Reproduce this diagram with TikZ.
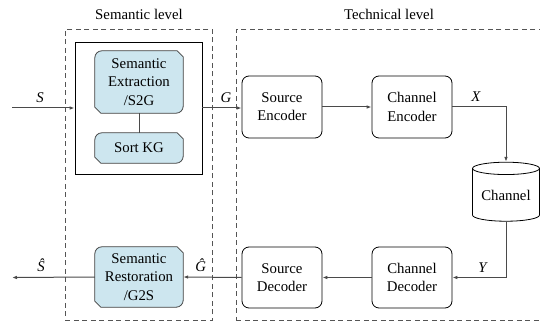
\documentclass[tikz,border=0pt]{standalone}
\usepackage{fontspec}
\setmainfont{Liberation Serif}
\usetikzlibrary{arrows.meta,shapes.geometric,backgrounds}

\definecolor{kgfill}{HTML}{CDE6EF}
\definecolor{wire}{HTML}{4A4A4A}
\definecolor{frame}{HTML}{555555}

\tikzset{
  every node/.style={font=\rmfamily\fontsize{14.8}{18.3}\selectfont},
  block/.style={draw=black, line width=0.8pt, rounded corners=7pt,
    minimum width=80pt, minimum height=62pt, align=center, inner sep=2pt},
  snipnode/.style={minimum width=88pt, align=center, inner sep=2pt},
  snipborder/.style={draw=black!75, fill=kgfill, line width=0.8pt},
  levelframe/.style={draw=frame, line width=0.8pt, dash pattern=on 5pt off 3.5pt},
  wireline/.style={draw=wire, line width=1pt},
  flow/.style={wireline, -{Latex[length=5pt,width=3.6pt]}},
  lbl/.style={font=\rmfamily\fontsize{14.8}{18.3}\selectfont\itshape, inner sep=0pt},
}

% snipped-corner outline: round top-left and bottom-right, cut the other two
\newcommand{\snipoutline}[1]{%
  \path[snipborder]
    ([xshift=7pt]#1.north west) -- ([xshift=-6pt]#1.north east)
    -- ([yshift=-6pt]#1.north east) -- ([yshift=7pt]#1.south east)
    arc[start angle=0, end angle=-90, radius=7pt]
    -- ([xshift=6pt]#1.south west) -- ([yshift=6pt]#1.south west)
    -- ([yshift=-7pt]#1.north west)
    arc[start angle=180, end angle=90, radius=7pt] -- cycle;}

\begin{document}
\begin{tikzpicture}[x=1pt, y=-1pt]
  \useasboundingbox (0,0) rectangle (540,323);

  % level frames and their titles
  \node[levelframe, minimum width=147pt, minimum height=291pt, anchor=north west, inner sep=0pt] (semframe) at (65,29) {};
  \node[levelframe, minimum width=310pt, minimum height=291pt, anchor=north west, inner sep=0pt] (techframe) at (236,29) {};
  \node (semtitle) at (139,14) {Semantic level};
  \node (techtitle) at (389,14) {Technical level};

  % knowledge-graph container
  \node[draw=black, line width=0.9pt, minimum width=127pt, minimum height=132pt, inner sep=0pt] (kgbox) at (138.5,108) {};

  % semantic blocks
  \node[snipnode, minimum height=62pt] (extract) at (139,82) {Semantic\\Extraction\\/S2G};
  \node[snipnode, minimum height=30pt] (sortkg) at (139,148) {Sort KG};
  \node[snipnode, minimum height=60pt] (restore) at (139,277) {Semantic\\Restoration\\/G2S};
  \begin{scope}[on background layer]
    \snipoutline{extract}
    \snipoutline{sortkg}
    \snipoutline{restore}
  \end{scope}

  % technical blocks
  \node[block] (srcenc) at (282,107) {Source\\Encoder};
  \node[block] (chenc) at (412,107) {Channel\\Encoder};
  \node[block, minimum height=61pt] (srcdec) at (282,277.5) {Source\\Decoder};
  \node[block, minimum height=61pt] (chdec) at (412,277.5) {Channel\\Decoder};
  \node[draw=black, line width=0.8pt, cylinder, shape border rotate=90, aspect=0.25,
        minimum width=67pt, minimum height=59pt, inner sep=0pt] (chan) at (506,195) {Channel};

  % free ends of the outer signals
  \coordinate (sin) at (12,108);
  \coordinate (sout) at (12,277.5);

  % connectors
  \draw[flow] (sin) -- (kgbox.west) node[lbl, pos=0.45, above=5pt] (slbl) {S};
  \draw[flow] (kgbox.east) -- (srcenc.west |- kgbox.east) node[lbl, pos=0.6, above=5pt] (glbl) {G};
  \draw[flow] (srcenc.east) -- (chenc.west);
  \draw[flow] (chenc.east) -| (chan.north) node[lbl, pos=0.22, above=5pt] (xlbl) {X};
  \draw[flow] (chan.south) |- (chdec.east) node[lbl, pos=0.72, above=5pt] (ylbl) {Y};
  \draw[flow] (chdec.west) -- (srcdec.east);
  \draw[flow] (srcdec.west) -- (restore.east) node[lbl, pos=0.7, above=5pt] (ghatlbl) {Ĝ};
  \draw[flow] (restore.west) -- (sout) node[lbl, pos=0.65, above=5pt] (shatlbl) {Ŝ};
  \draw[wireline] (extract.south) -- (sortkg.north);
\end{tikzpicture}
\end{document}
